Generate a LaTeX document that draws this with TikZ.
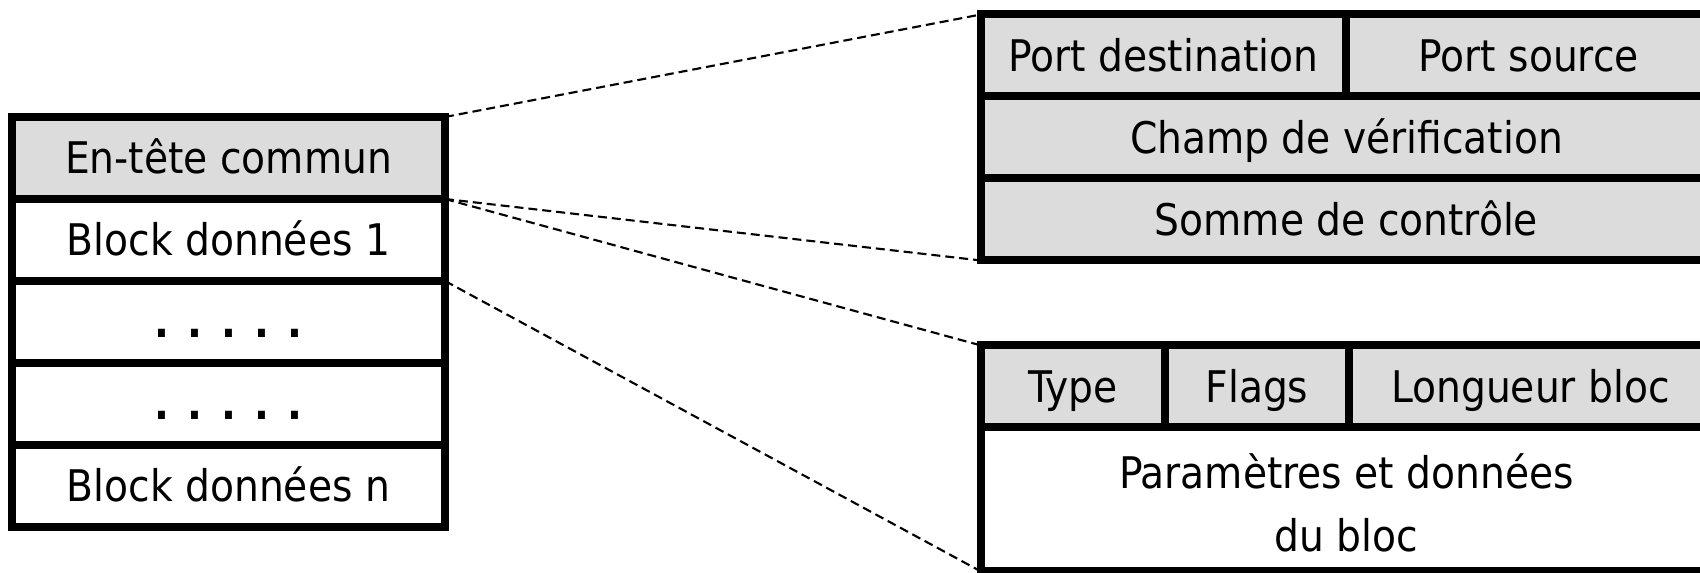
\documentclass[tikz,border=0pt]{standalone}
\usepackage{fontspec}
\usetikzlibrary{positioning}
\newfontfamily\fieldfont{DejaVu Sans Condensed}
\definecolor{hdrgray}{RGB}{220,220,220}

\tikzstyle{box} = [draw, line width=2.28pt, outer sep=0pt, inner sep=0pt, fill=white, font=\fieldfont\fontsize{12.4}{18}\selectfont]
\tikzstyle{cell} = [box, minimum height=0.82cm, text height=0.42cm, text depth=0.1cm]
\tikzstyle{head} = [cell, fill=hdrgray]
\tikzstyle{stackrow} = [cell, minimum width=4.33cm]
\tikzstyle{zoomline} = [line width=0.6pt, dash pattern=on 2.56pt off 1.42pt]

\begin{document}
\begin{tikzpicture}
\useasboundingbox (0,0) rectangle (17,5.73);
\clip (0,0) rectangle (17,5.73);

\node[stackrow, fill=hdrgray, anchor=north west] (entete) at (0.12,4.56) {En-tête commun};
\node[stackrow, below=0pt of entete] (bloc1) {Block données 1};
\node[stackrow, below=0pt of bloc1] (dots1) {\textbf{. . . . .}};
\node[stackrow, below=0pt of dots1] (dots2) {\textbf{. . . . .}};
\node[stackrow, below=0pt of dots2] (blocn) {Block données n};

\node[head, minimum width=3.645cm, anchor=north west] (portdst) at (9.81,5.585) {Port destination};
\node[head, minimum width=3.665cm, right=0pt of portdst] (portsrc) {Port source};
\node[head, minimum width=7.31cm, below=0pt of portdst.south west, anchor=north west] (champ) {Champ de vérification};
\node[head, minimum width=7.31cm, below=0pt of champ] (somme) {Somme de contrôle};

\node[head, minimum width=1.84cm, anchor=north west] (type) at (9.81,2.275) {Type};
\node[head, minimum width=1.84cm, right=0pt of type] (flags) {Flags};
\node[head, minimum width=3.63cm, right=0pt of flags] (longueur) {Longueur bloc};
\node[box, minimum width=7.31cm, minimum height=1.44cm, align=center, below=0pt of type.south west, anchor=north west] (param) {\rule{0pt}{0.42cm}Paramètres et données\\du bloc};

\draw[zoomline] (entete.north east) -- (portdst.north west);
\draw[zoomline] (entete.south east) -- (somme.south west);
\draw[zoomline] (bloc1.north east) -- (type.north west);
\draw[zoomline] (bloc1.south east) -- (param.south west);
\end{tikzpicture}
\end{document}
